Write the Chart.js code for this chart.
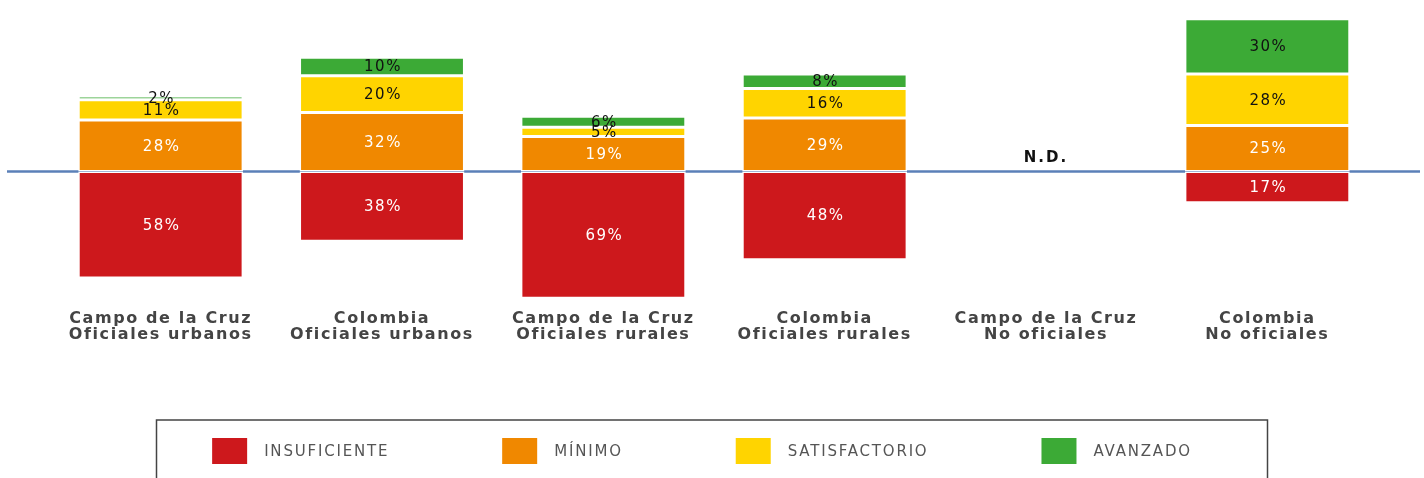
<!DOCTYPE html>
<html>
<head>
<meta charset="utf-8">
<script src="https://cdn.jsdelivr.net/npm/chart.js@4/dist/chart.umd.min.js"></script>
<style>
  html, body { margin: 0; padding: 0; background: #fff; }
  #wrap { width: 1424px; height: 478px; }
</style>
</head>
<body>
<div id="wrap"><canvas id="niveles"></canvas></div>
<script>
// Categorías (dos líneas por etiqueta)
const categorias = [
  ['Campo de la Cruz', 'Oficiales urbanos'],
  ['Colombia', 'Oficiales urbanos'],
  ['Campo de la Cruz', 'Oficiales rurales'],
  ['Colombia', 'Oficiales rurales'],
  ['Campo de la Cruz', 'No oficiales'],
  ['Colombia', 'No oficiales']
];

// Porcentaje de estudiantes por nivel de desempeño (null = N.D.)
const insuficiente = [58, 38, 69, 48, null, 17];
const minimo = [28, 32, 19, 29, null, 25];
const satisfactorio = [11, 20, 5, 16, null, 28];
const avanzado = [2, 10, 6, 8, null, 30];

const niveles = ['INSUFICIENTE', 'MÍNIMO', 'SATISFACTORIO', 'AVANZADO'];
const colores = ['#cd181c', '#f08800', '#ffd400', '#3caa36'];
const colorTexto = ['#ffffff', '#ffffff', '#111111', '#111111'];

const fuente = '"DejaVu Sans", Verdana, sans-serif';

// insuficiente va hacia abajo
const series = [insuficiente.map(v => v === null ? null : -v), minimo, satisfactorio, avanzado];

const datasets = series.map((d, i) => ({
  label: niveles[i],
  data: d,
  backgroundColor: colores[i],
  borderColor: '#ffffff',
  borderWidth: 1.5,
  borderSkipped: false,
  categoryPercentage: 1,
  barPercentage: 0.745
}));

// espaciado de letras (etiquetas del eje x)
const espaciado = {
  id: 'espaciado',
  beforeDraw(chart) {
    chart.ctx.letterSpacing = '1.6px';
  }
};

// linea base azul en cero
const lineaBase = {
  id: 'lineaBase',
  beforeDatasetsDraw(chart) {
    const ctx = chart.ctx;
    const y0 = chart.scales.y.getPixelForValue(0);
    ctx.save();
    ctx.strokeStyle = '#5b80b8';
    ctx.lineWidth = 2.5;
    ctx.beginPath();
    ctx.moveTo(7, y0);
    ctx.lineTo(chart.width - 4, y0);
    ctx.stroke();
    ctx.restore();
  }
};

// porcentajes dentro de cada barra y N.D.
const etiquetas = {
  id: 'etiquetas',
  afterDatasetsDraw(chart) {
    const ctx = chart.ctx;
    ctx.save();
    ctx.letterSpacing = '1.5px';
    ctx.font = '15px ' + fuente;
    ctx.textAlign = 'center';
    ctx.textBaseline = 'middle';
    chart.data.datasets.forEach((ds, i) => {
      const meta = chart.getDatasetMeta(i);
      meta.data.forEach((bar, j) => {
        const v = ds.data[j];
        if (v === null) return;
        ctx.fillStyle = colorTexto[i];
        ctx.fillText(Math.abs(v) + '%', bar.x + 1, (bar.y + bar.base) / 2 + 1);
      });
    });
    const y0 = chart.scales.y.getPixelForValue(0);
    ctx.font = 'bold 15px ' + fuente;
    ctx.letterSpacing = '2px';
    ctx.fillStyle = '#111111';
    categorias.forEach((c, j) => {
      const vacio = chart.data.datasets.every(ds => ds.data[j] === null);
      if (vacio) ctx.fillText('N.D.', chart.scales.x.getPixelForValue(j), y0 - 13);
    });
    ctx.restore();
  }
};

// leyenda en recuadro abajo
const leyenda = {
  id: 'leyenda',
  afterDraw(chart) {
    const ctx = chart.ctx;
    const anchoCaja = 1111;
    const xCaja = (chart.width - anchoCaja) / 2;
    const yCaja = chart.height - 58;
    ctx.save();
    ctx.strokeStyle = '#444444';
    ctx.lineWidth = 1.5;
    ctx.strokeRect(xCaja, yCaja, anchoCaja, 80);

    ctx.font = '15px ' + fuente;
    ctx.letterSpacing = '1.8px';
    ctx.textBaseline = 'middle';
    ctx.textAlign = 'left';
    const cuadro = 35, sep = 17, pad = 113;
    const items = chart.data.datasets.map(ds => ({
      texto: ds.label, color: ds.backgroundColor, w: ctx.measureText(ds.label).width
    }));
    const total = items.reduce((s, it) => s + cuadro + sep + it.w, 0) + pad * (items.length - 1);
    let x = xCaja + (anchoCaja - total) / 2 - 10;
    const yc = yCaja + 31;
    items.forEach(it => {
      ctx.fillStyle = it.color;
      ctx.fillRect(x, yc - 13, cuadro, 26);
      ctx.fillStyle = '#555555';
      ctx.fillText(it.texto, x + cuadro + sep, yc + 1);
      x += cuadro + sep + it.w + pad;
    });
    ctx.restore();
  }
};

const ctx = document.getElementById('niveles').getContext('2d');
new Chart(ctx, {
  type: 'bar',
  data: { labels: categorias, datasets: datasets },
  options: {
    responsive: true,
    maintainAspectRatio: false,
    animation: false,
    layout: { padding: { top: 4, left: 50, right: 46, bottom: 126 } },
    plugins: {
      legend: { display: false },
      tooltip: { enabled: false }
    },
    scales: {
      x: {
        stacked: true,
        grid: { display: false, drawTicks: false },
        border: { display: false },
        ticks: {
          color: '#444444',
          padding: 9,
          font: { family: fuente, size: 16, weight: 'bold', lineHeight: 1.0 }
        }
      },
      y: {
        stacked: true,
        display: false,
        min: -71,
        max: 91
      }
    }
  },
  plugins: [espaciado, lineaBase, etiquetas, leyenda]
});
</script>
</body>
</html>
